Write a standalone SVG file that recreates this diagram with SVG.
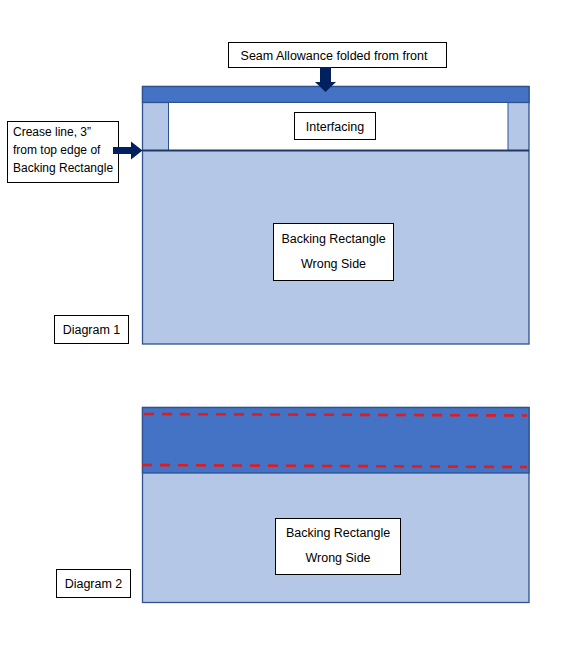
<svg xmlns="http://www.w3.org/2000/svg" width="561" height="648" viewBox="0 0 561 648">
<style>
.bg{fill:#B4C7E7;stroke:#2F528F;stroke-width:1.3}
.band{fill:#4472C4;stroke:#2F528F;stroke-width:1.3}
.box{fill:#fff;stroke:#000;stroke-width:1}
.t{font-family:"Liberation Sans",Arial,sans-serif;font-size:12.5px;fill:#000;text-anchor:middle}
.tl{font-family:"Liberation Sans",Arial,sans-serif;font-size:12px;fill:#000;text-anchor:start}
.arrow{fill:#002060}
.seam{fill:none;stroke:#E31B1B;stroke-width:2.6;stroke-dasharray:10 8}
</style>
<rect width="561" height="648" fill="#fff"/>
<g id="diagram1">
  <rect class="bg" x="142.5" y="86.5" width="386.5" height="257.5"/>
  <rect class="band" x="142.5" y="86.5" width="386.5" height="16"/>
  <rect x="168.5" y="102.5" width="339.5" height="48" fill="#fff" stroke="#2F528F" stroke-width="1"/>
  <line x1="142.5" y1="150.5" x2="529" y2="150.5" stroke="#1F3864" stroke-width="1.8"/>
</g>
<g id="interfacing-label">
  <rect class="box" x="294.5" y="112.5" width="81" height="27"/>
  <text class="t" x="335" y="130.5">Interfacing</text>
</g>
<g id="seam-label">
  <rect class="box" x="228.5" y="42.5" width="218" height="25"/>
  <text class="t" x="334" y="59.5">Seam Allowance folded from front</text>
</g>
<g id="crease-label">
  <rect class="box" x="7.5" y="121.5" width="111" height="61"/>
  <text class="tl" x="13" y="135.5">Crease line, 3”</text>
  <text class="tl" x="13" y="154">from top edge of</text>
  <text class="tl" x="13" y="172">Backing Rectangle</text>
</g>
<g id="backing1">
  <rect class="box" x="273.5" y="223.5" width="120" height="57"/>
  <text class="t" x="333.5" y="243">Backing Rectangle</text>
  <text class="t" x="333.5" y="268">Wrong Side</text>
</g>
<g id="diagram1-label">
  <rect class="box" x="54.5" y="315.5" width="74" height="28"/>
  <text class="t" x="91.5" y="334">Diagram 1</text>
</g>
<g id="diagram2">
  <rect class="bg" x="142.5" y="407.5" width="386.5" height="195"/>
  <rect class="band" x="142.5" y="407.5" width="386.5" height="65.5"/>
  <line class="seam" x1="144" y1="414" x2="527" y2="415.5"/>
  <line class="seam" x1="142" y1="465" x2="527" y2="467"/>
</g>
<g id="backing2">
  <rect class="box" x="275.5" y="518.5" width="125" height="56"/>
  <text class="t" x="338" y="537">Backing Rectangle</text>
  <text class="t" x="338" y="562">Wrong Side</text>
</g>
<g id="diagram2-label">
  <rect class="box" x="56.5" y="569.5" width="74" height="28"/>
  <text class="t" x="93.5" y="588">Diagram 2</text>
</g>
<g id="connectors">
  <polygon class="arrow" points="320,67 331,67 331,82 336,82 325.5,92 315,82 320,82"/>
  <polygon class="arrow" points="113,147 131,147 131,141.5 142.5,150.5 131,159.5 131,154 113,154"/>
</g>
</svg>
